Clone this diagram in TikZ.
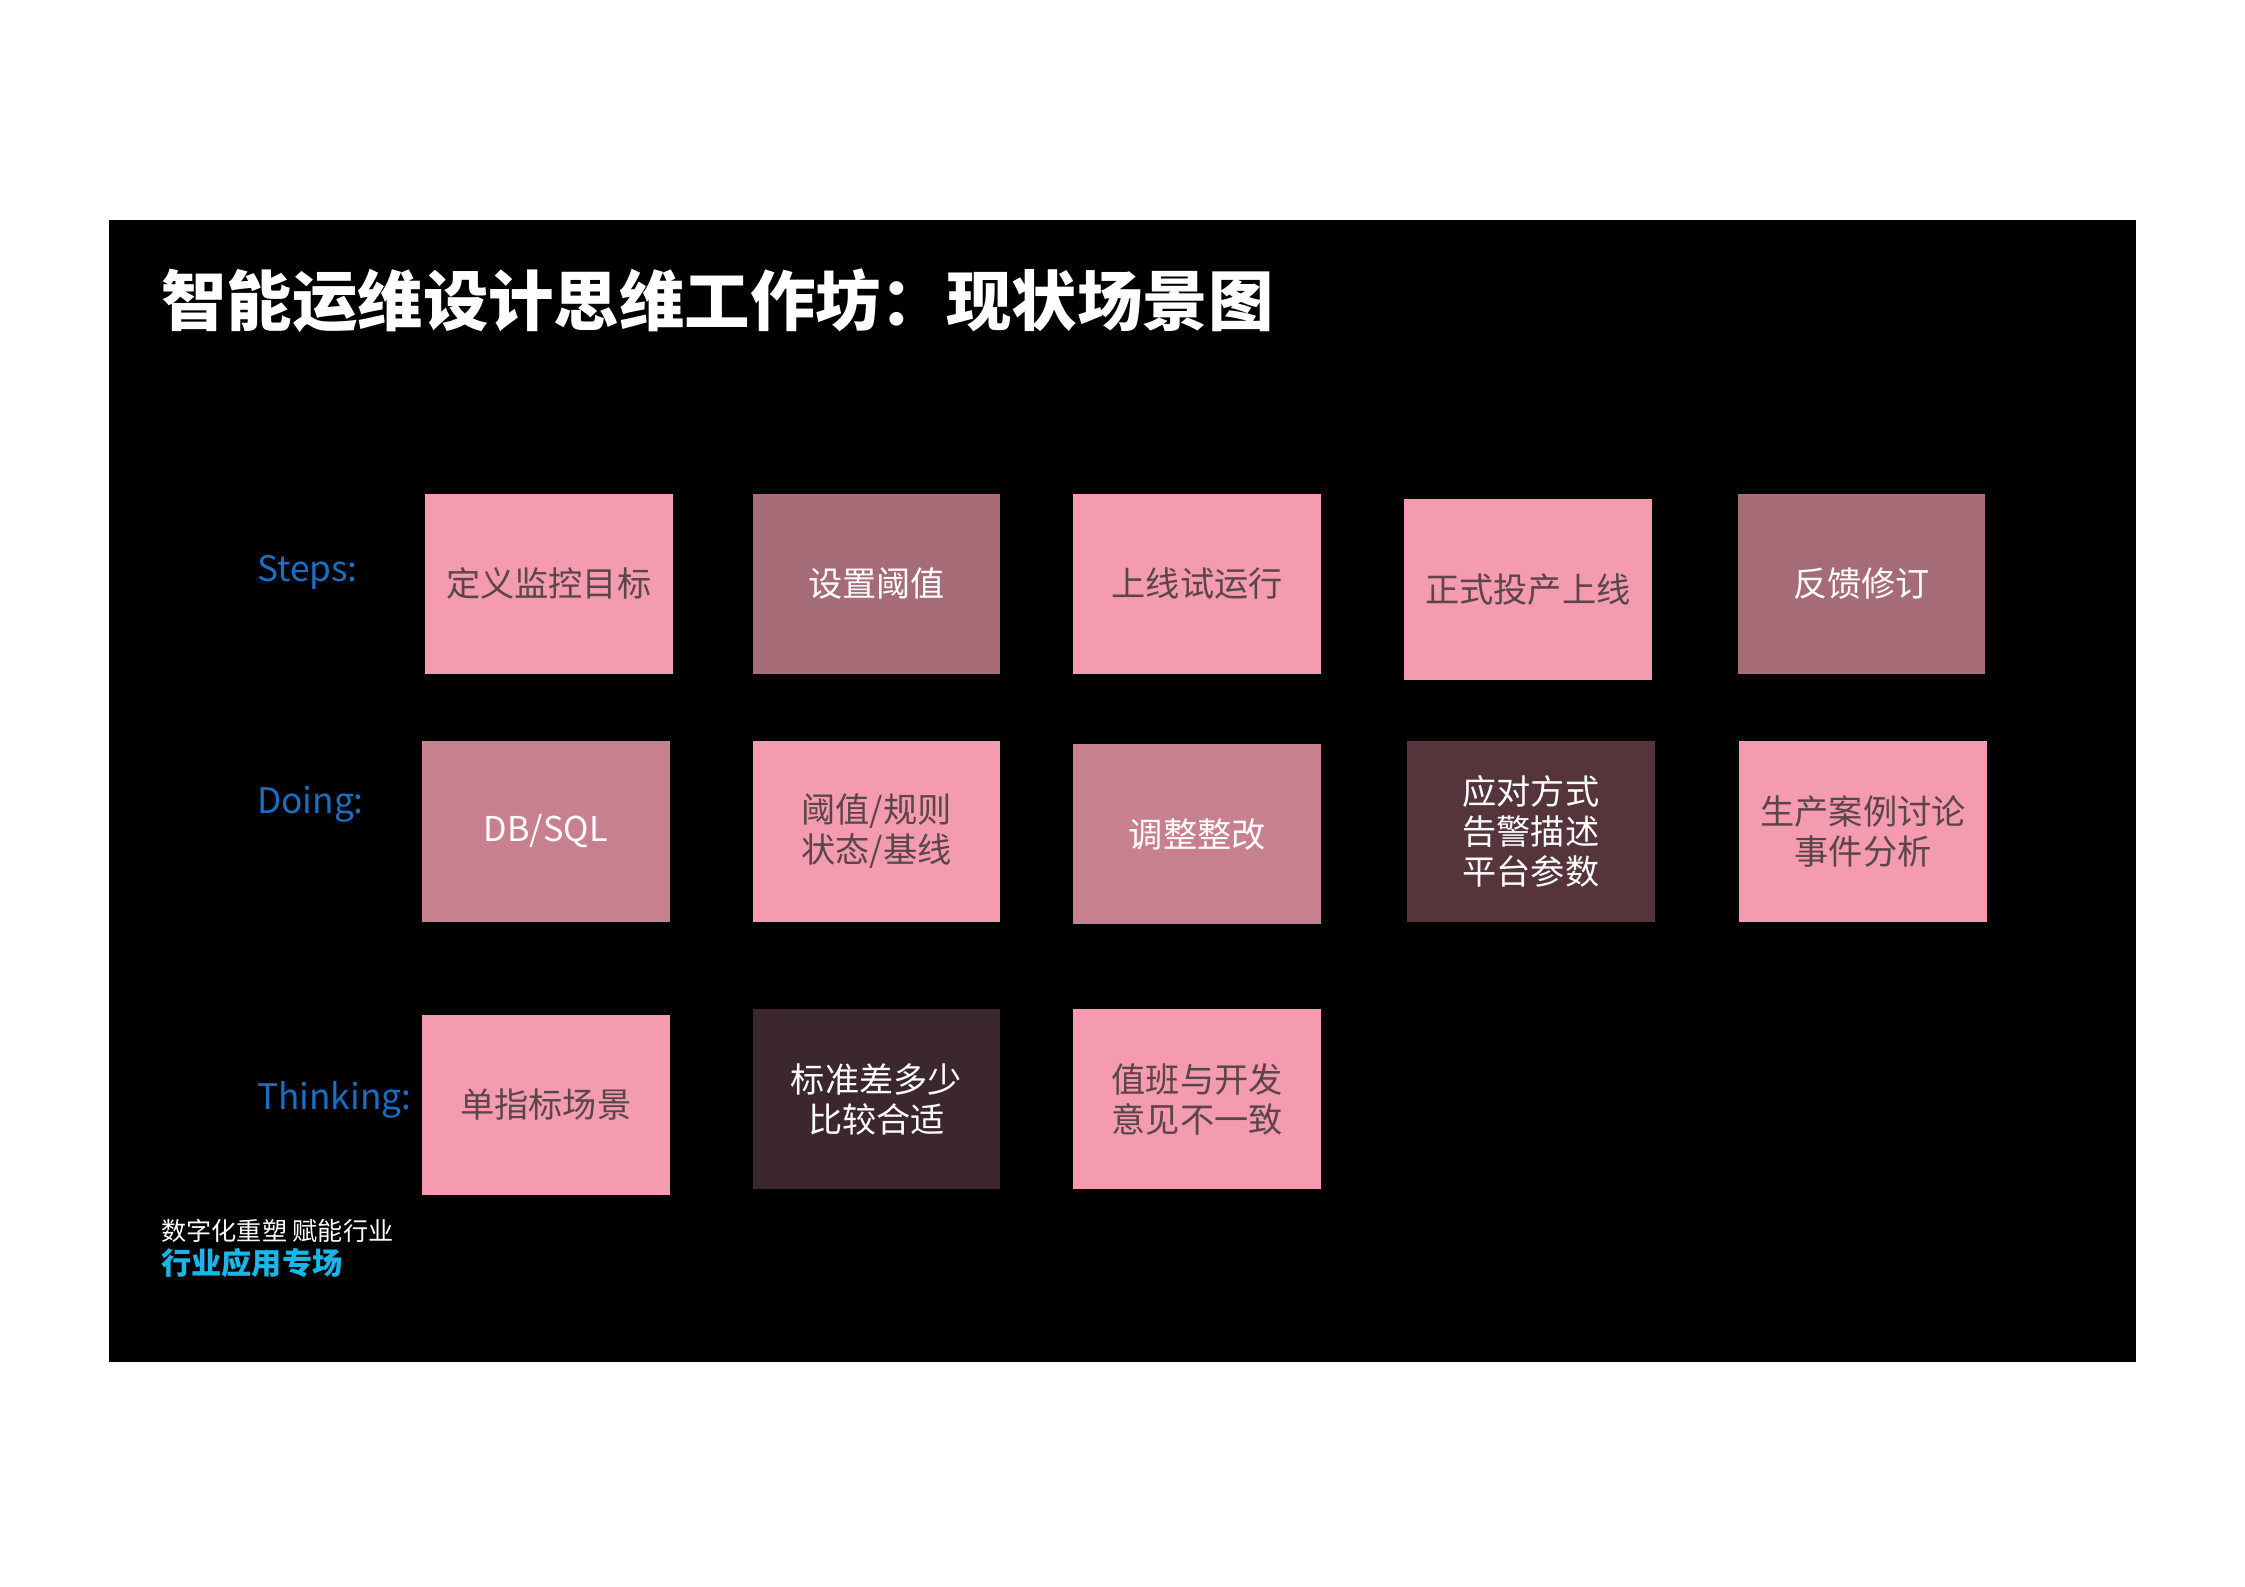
\documentclass[tikz,border=0pt]{standalone}
\usepackage{fontspec}
\setmainfont{Noto Sans CJK SC}
\definecolor{pk}{HTML}{F49BB0}
\definecolor{mv}{HTML}{A56B77}
\definecolor{md}{HTML}{C6808E}
\definecolor{dk}{HTML}{55343B}
\definecolor{dd}{HTML}{3C272C}
\definecolor{tx}{HTML}{5A4548}
\definecolor{bl}{HTML}{1A6FC4}
\definecolor{cy}{HTML}{1AB6E8}
\begin{document}
\begin{tikzpicture}[x=0.1mm,y=-0.1mm,
  card/.style={minimum width=17.3mm,minimum height=12.6mm,inner sep=0pt,align=center,font=\fontsize{6.8pt}{8pt}\selectfont,anchor=north west},
  lt/.style={card,fill=pk,text=tx},
  dkc/.style={card,text=white},
  rowlab/.style={text=bl,inner sep=0pt,font=\fontsize{7pt}{8pt}\selectfont,anchor=west}]
\useasboundingbox (0,0) rectangle (1568,1108);
\fill[black] (76,154) rectangle (1492,951);
\node[anchor=west,inner sep=0pt,text=white,font=\fontsize{13pt}{15pt}\selectfont\bfseries] (title) at (112,210) {智能运维设计思维工作坊：现状场景图};
\node[rowlab] (l1) at (179,400) {Steps:};
\node[rowlab] (l2) at (179,562) {Doing:};
\node[rowlab] (l3) at (179,768) {Thinking:};
\node[lt] (a1) at (296,344) {定义监控目标};
\node[dkc,fill=mv] (a2) at (525,344) {设置阈值};
\node[lt] (a3) at (749,344) {上线试运行};
\node[lt] (a4) at (980,348) {正式投产上线};
\node[dkc,fill=mv] (a5) at (1213,344) {反馈修订};
\node[dkc,fill=md] (b1) at (294,517) {DB/SQL};
\node[lt] (b2) at (525,517) {阈值/规则\\状态/基线};
\node[dkc,fill=md] (b3) at (749,519) {调整整改};
\node[dkc,fill=dk] (b4) at (982,517) {应对方式\\告警描述\\平台参数};
\node[lt] (b5) at (1214,517) {生产案例讨论\\事件分析};
\node[lt] (c1) at (294,708) {单指标场景};
\node[dkc,fill=dd] (c2) at (525,704) {标准差多少\\比较合适};
\node[lt] (c3) at (749,704) {值班与开发\\意见不一致};
\node[anchor=west,inner sep=0pt,text=white,font=\fontsize{5pt}{6pt}\selectfont] (f1) at (112,860) {数字化重塑 赋能行业};
\node[anchor=west,inner sep=0pt,text=cy,font=\fontsize{6pt}{7pt}\selectfont\bfseries] (f2) at (112,882) {行业应用专场};
\end{tikzpicture}
\end{document}
